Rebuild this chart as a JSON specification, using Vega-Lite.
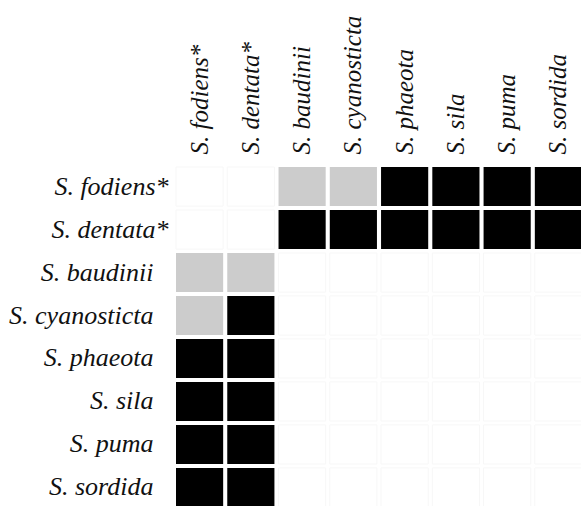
{
  "$schema": "https://vega.github.io/schema/vega-lite/v6.json",
  "autosize": {"type": "none"},
  "padding": {"left": 176, "top": 167, "right": 0, "bottom": 0},
  "width": 406,
  "height": 340,
  "background": "white",
  "data": {
    "values": [
      {"row": "S. fodiens*", "col": "S. fodiens*", "v": "none"},
      {"row": "S. fodiens*", "col": "S. dentata*", "v": "none"},
      {"row": "S. fodiens*", "col": "S. baudinii", "v": "partial"},
      {"row": "S. fodiens*", "col": "S. cyanosticta", "v": "partial"},
      {"row": "S. fodiens*", "col": "S. phaeota", "v": "full"},
      {"row": "S. fodiens*", "col": "S. sila", "v": "full"},
      {"row": "S. fodiens*", "col": "S. puma", "v": "full"},
      {"row": "S. fodiens*", "col": "S. sordida", "v": "full"},
      {"row": "S. dentata*", "col": "S. fodiens*", "v": "none"},
      {"row": "S. dentata*", "col": "S. dentata*", "v": "none"},
      {"row": "S. dentata*", "col": "S. baudinii", "v": "full"},
      {"row": "S. dentata*", "col": "S. cyanosticta", "v": "full"},
      {"row": "S. dentata*", "col": "S. phaeota", "v": "full"},
      {"row": "S. dentata*", "col": "S. sila", "v": "full"},
      {"row": "S. dentata*", "col": "S. puma", "v": "full"},
      {"row": "S. dentata*", "col": "S. sordida", "v": "full"},
      {"row": "S. baudinii", "col": "S. fodiens*", "v": "partial"},
      {"row": "S. baudinii", "col": "S. dentata*", "v": "partial"},
      {"row": "S. baudinii", "col": "S. baudinii", "v": "none"},
      {"row": "S. baudinii", "col": "S. cyanosticta", "v": "none"},
      {"row": "S. baudinii", "col": "S. phaeota", "v": "none"},
      {"row": "S. baudinii", "col": "S. sila", "v": "none"},
      {"row": "S. baudinii", "col": "S. puma", "v": "none"},
      {"row": "S. baudinii", "col": "S. sordida", "v": "none"},
      {"row": "S. cyanosticta", "col": "S. fodiens*", "v": "partial"},
      {"row": "S. cyanosticta", "col": "S. dentata*", "v": "full"},
      {"row": "S. cyanosticta", "col": "S. baudinii", "v": "none"},
      {"row": "S. cyanosticta", "col": "S. cyanosticta", "v": "none"},
      {"row": "S. cyanosticta", "col": "S. phaeota", "v": "none"},
      {"row": "S. cyanosticta", "col": "S. sila", "v": "none"},
      {"row": "S. cyanosticta", "col": "S. puma", "v": "none"},
      {"row": "S. cyanosticta", "col": "S. sordida", "v": "none"},
      {"row": "S. phaeota", "col": "S. fodiens*", "v": "full"},
      {"row": "S. phaeota", "col": "S. dentata*", "v": "full"},
      {"row": "S. phaeota", "col": "S. baudinii", "v": "none"},
      {"row": "S. phaeota", "col": "S. cyanosticta", "v": "none"},
      {"row": "S. phaeota", "col": "S. phaeota", "v": "none"},
      {"row": "S. phaeota", "col": "S. sila", "v": "none"},
      {"row": "S. phaeota", "col": "S. puma", "v": "none"},
      {"row": "S. phaeota", "col": "S. sordida", "v": "none"},
      {"row": "S. sila", "col": "S. fodiens*", "v": "full"},
      {"row": "S. sila", "col": "S. dentata*", "v": "full"},
      {"row": "S. sila", "col": "S. baudinii", "v": "none"},
      {"row": "S. sila", "col": "S. cyanosticta", "v": "none"},
      {"row": "S. sila", "col": "S. phaeota", "v": "none"},
      {"row": "S. sila", "col": "S. sila", "v": "none"},
      {"row": "S. sila", "col": "S. puma", "v": "none"},
      {"row": "S. sila", "col": "S. sordida", "v": "none"},
      {"row": "S. puma", "col": "S. fodiens*", "v": "full"},
      {"row": "S. puma", "col": "S. dentata*", "v": "full"},
      {"row": "S. puma", "col": "S. baudinii", "v": "none"},
      {"row": "S. puma", "col": "S. cyanosticta", "v": "none"},
      {"row": "S. puma", "col": "S. phaeota", "v": "none"},
      {"row": "S. puma", "col": "S. sila", "v": "none"},
      {"row": "S. puma", "col": "S. puma", "v": "none"},
      {"row": "S. puma", "col": "S. sordida", "v": "none"},
      {"row": "S. sordida", "col": "S. fodiens*", "v": "full"},
      {"row": "S. sordida", "col": "S. dentata*", "v": "full"},
      {"row": "S. sordida", "col": "S. baudinii", "v": "none"},
      {"row": "S. sordida", "col": "S. cyanosticta", "v": "none"},
      {"row": "S. sordida", "col": "S. phaeota", "v": "none"},
      {"row": "S. sordida", "col": "S. sila", "v": "none"},
      {"row": "S. sordida", "col": "S. puma", "v": "none"},
      {"row": "S. sordida", "col": "S. sordida", "v": "none"}
    ]
  },
  "mark": {"type": "rect"},
  "encoding": {
    "x": {
      "field": "col", "type": "nominal", "sort": null,
      "scale": {"paddingInner": 0.08, "paddingOuter": 0},
      "axis": {
        "orient": "top", "title": null, "labelAngle": -90, "labelPadding": 13,
        "ticks": false, "domain": false
      }
    },
    "y": {
      "field": "row", "type": "nominal", "sort": null,
      "scale": {"paddingInner": 0.09, "paddingOuter": 0},
      "axis": {
        "orient": "left", "title": null,
        "labelPadding": {"condition": {"test": "indexof(datum.value, '*') >= 0", "value": 8}, "value": 23},
        "ticks": false, "domain": false
      }
    },
    "fill": {
      "field": "v", "type": "nominal",
      "scale": {"domain": ["none", "partial", "full"], "range": ["#ffffff", "#cccccc", "#000000"]},
      "legend": null
    },
    "stroke": {
      "condition": {"test": "datum.v === 'none'", "value": "#f7f7f7"},
      "value": null
    }
  },
  "config": {
    "view": {"stroke": null},
    "axis": {
      "labelFont": "Liberation Serif",
      "labelFontStyle": "oblique",
      "labelFontSize": 25,
      "labelColor": "#111111",
      "labelLimit": 300
    },
    "axisY": {"labelFontSize": 26}
  }
}
